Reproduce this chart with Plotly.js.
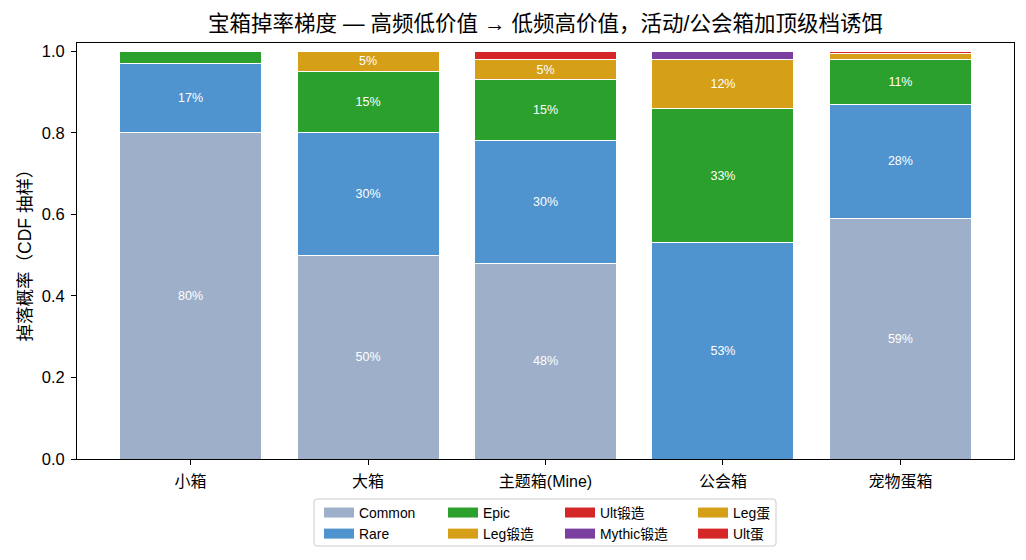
<!DOCTYPE html>
<html>
<head>
<meta charset="utf-8">
<script src="https://cdn.plot.ly/plotly-3.0.1.min.js"></script>
<style>
  html, body { margin: 0; padding: 0; background: #fff; }
  #chart { width: 1026px; height: 560px; }
</style>
</head>
<body>
<div id="chart"></div>
<script>
// Chest types along the x axis
const chests = ['小箱', '大箱', '主题箱(Mine)', '公会箱', '宠物蛋箱'];

// Drop probability per rarity tier (stacked bottom to top)
const common      = [0.80, 0.50, 0.48, 0.00, 0.59];
const rare        = [0.17, 0.30, 0.30, 0.53, 0.28];
const epic        = [0.03, 0.15, 0.15, 0.33, 0.11];
const legForge    = [0.00, 0.05, 0.05, 0.12, 0.00];
const ultForge    = [0.00, 0.00, 0.02, 0.00, 0.00];
const mythicForge = [0.00, 0.00, 0.00, 0.02, 0.00];
const legEgg      = [0.00, 0.00, 0.00, 0.00, 0.015];
const ultEgg      = [0.00, 0.00, 0.00, 0.00, 0.005];

const yTicks = [0, 0.2, 0.4, 0.6, 0.8, 1.0];

// Series definitions: name, values, colour, legend column
const series = [
  { name: 'Common',     v: common,      color: '#9eb0c9', legend: 'legend'  },
  { name: 'Rare',       v: rare,        color: '#4f93cf', legend: 'legend'  },
  { name: 'Epic',       v: epic,        color: '#2ca02c', legend: 'legend2' },
  { name: 'Leg锻造',    v: legForge,    color: '#d5a018', legend: 'legend2' },
  { name: 'Ult锻造',    v: ultForge,    color: '#d62728', legend: 'legend3' },
  { name: 'Mythic锻造', v: mythicForge, color: '#7b3fa0', legend: 'legend3' },
  { name: 'Leg蛋',      v: legEgg,      color: '#d5a018', legend: 'legend4' },
  { name: 'Ult蛋',      v: ultEgg,      color: '#d62728', legend: 'legend4' }
];

const FONT = '"Liberation Sans", Arial, "Noto Sans CJK SC", sans-serif';

// Stacked bars (legend entries come from the swatch traces below)
const bars = series.map(s => ({
  type: 'bar',
  name: s.name,
  x: chests,
  y: s.v.map(v => (v > 0 ? v : null)),
  width: 0.8,
  marker: { color: s.color, line: { color: '#ffffff', width: 1 } },
  text: s.v.map(v => (v >= 0.05 ? Math.round(v * 100) + '%' : '')),
  textposition: 'inside',
  insidetextanchor: 'middle',
  textangle: 0,
  constraintext: 'none',
  textfont: { color: '#ffffff', size: 12.5, family: FONT },
  hoverinfo: 'skip',
  showlegend: false
}));

// Wide rectangular legend swatches
const swatches = series.map(s => ({
  type: 'scatter',
  mode: 'lines',
  name: s.name,
  x: [null],
  y: [null],
  line: { color: s.color, width: 10 },
  hoverinfo: 'skip',
  showlegend: true,
  legend: s.legend
}));

// Plot-area geometry in pixels, used to place the legend columns and frame
const W = 1026, H = 560;
const M = { l: 77, r: 12, t: 43, b: 101, autoexpand: false };
const pw = W - M.l - M.r, ph = H - M.t - M.b;
const px2x = p => (p - M.l) / pw;
const px2y = p => (H - M.b - p) / ph;

const legendBase = {
  orientation: 'v',
  traceorder: 'normal',
  xanchor: 'left',
  yanchor: 'top',
  y: px2y(497),
  bgcolor: 'rgba(0,0,0,0)',
  borderwidth: 0,
  font: { size: 13.9, family: FONT, color: '#000' },
  tracegroupgap: 0,
  itemclick: false,
  itemdoubleclick: false
};
const colX = [319, 443, 560, 693];

// Rounded frame around the legend columns
function roundedRect(x0, y0, x1, y1, r) {
  const X = p => px2x(p).toFixed(5), Y = p => px2y(p).toFixed(5);
  return `M${X(x0 + r)},${Y(y0)} L${X(x1 - r)},${Y(y0)} Q${X(x1)},${Y(y0)} ${X(x1)},${Y(y0 + r)} ` +
         `L${X(x1)},${Y(y1 - r)} Q${X(x1)},${Y(y1)} ${X(x1 - r)},${Y(y1)} ` +
         `L${X(x0 + r)},${Y(y1)} Q${X(x0)},${Y(y1)} ${X(x0)},${Y(y1 - r)} ` +
         `L${X(x0)},${Y(y0 + r)} Q${X(x0)},${Y(y0)} ${X(x0 + r)},${Y(y0)} Z`;
}

const layout = {
  width: W,
  height: H,
  margin: M,
  barmode: 'stack',
  paper_bgcolor: '#ffffff',
  plot_bgcolor: '#ffffff',
  font: { family: FONT, color: '#000' },
  title: {
    text: '宝箱掉率梯度 — 高频低价值 → 低频高价值，活动/公会箱加顶级档诱饵',
    font: { size: 21.5, family: FONT, color: '#000' },
    x: 0.5 * (M.l + (W - M.r)) / W,
    xanchor: 'center',
    y: 1 - 23 / H,
    yanchor: 'middle'
  },
  xaxis: {
    type: 'category',
    range: [-0.64, 4.64],
    showline: true, linecolor: '#000', linewidth: 1, mirror: true,
    ticks: 'outside', ticklen: 5, tickcolor: '#000',
    ticklabelstandoff: 3,
    tickfont: { size: 16, family: FONT },
    showgrid: false, zeroline: false, fixedrange: true
  },
  yaxis: {
    range: [0, 1.02],
    tickvals: yTicks,
    ticktext: yTicks.map(v => v.toFixed(1)),
    showline: true, linecolor: '#000', linewidth: 1, mirror: true,
    ticks: 'outside', ticklen: 5, tickcolor: '#000',
    ticklabelstandoff: 3,
    tickfont: { size: 16.5, family: FONT },
    title: { text: '掉落概率（CDF 抽样）', font: { size: 17.5, family: FONT }, standoff: 5 },
    showgrid: false, zeroline: false, fixedrange: true
  },
  legend:  Object.assign({}, legendBase, { x: px2x(colX[0]) }),
  legend2: Object.assign({}, legendBase, { x: px2x(colX[1]) }),
  legend3: Object.assign({}, legendBase, { x: px2x(colX[2]) }),
  legend4: Object.assign({}, legendBase, { x: px2x(colX[3]) }),
  shapes: [{
    type: 'path', xref: 'paper', yref: 'paper',
    path: roundedRect(314, 499, 776, 546, 3),
    line: { color: '#cccccc', width: 1 },
    fillcolor: 'rgba(0,0,0,0)',
    layer: 'below'
  }],
  showlegend: true
};

Plotly.newPlot('chart', bars.concat(swatches), layout, { displayModeBar: false, staticPlot: true });
</script>
</body>
</html>
